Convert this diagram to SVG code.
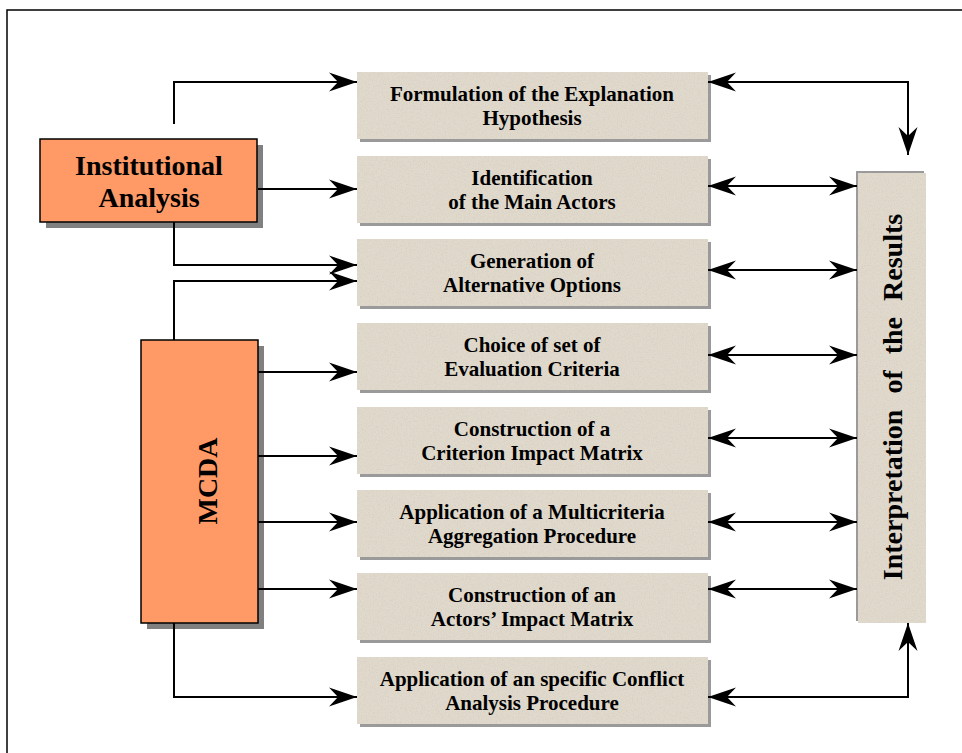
<svg xmlns="http://www.w3.org/2000/svg" width="962" height="753" viewBox="0 0 962 753">
<defs>
<style>
.frame{fill:none;stroke:#000;stroke-width:1.5}
.orange{fill:#FF9966;stroke:#000;stroke-width:1.5}
.oshadow{fill:#808080}
.tan{fill:#E0D9CC;filter:url(#grain)}
.tshadow{fill:#9a9a9a}
.t{font-family:"Liberation Serif","Times New Roman",serif;font-weight:bold;fill:#000;text-anchor:middle}
.box{font-size:21px}
.big{font-size:28px}
.conn path{fill:none;stroke:#000;stroke-width:2}
</style>
<marker id="ah" markerUnits="userSpaceOnUse" markerWidth="30" markerHeight="22" viewBox="-29 -11 30 22" refX="0" refY="0" orient="auto-start-reverse">
<path d="M0,0 L-28,-9.5 L-19,0 L-28,9.5 Z" fill="#000"/>
</marker>
<filter id="grain" x="0" y="0" width="100%" height="100%">
<feTurbulence type="fractalNoise" baseFrequency="0.75" numOctaves="2" seed="4" result="n"/>
<feColorMatrix in="n" type="matrix" values="0 0 0 0 0.66  0 0 0 0 0.61  0 0 0 0 0.54  2.2 0 0 0 -1.0" result="s"/>
<feComposite in="s" in2="SourceGraphic" operator="in" result="t"/>
<feMerge><feMergeNode in="SourceGraphic"/><feMergeNode in="t"/></feMerge>
</filter>
</defs>
<rect width="962" height="753" fill="#fff"/>
<path class="frame" d="M7,753 V10 H962"/>

<g id="institutional-analysis">
<rect class="oshadow" x="46" y="145" width="217" height="83"/>
<rect class="orange" x="40" y="139" width="217" height="83"/>
<text class="t big" x="149" y="175">Institutional</text>
<text class="t big" x="149" y="207">Analysis</text>
</g>

<g id="mcda">
<rect class="oshadow" x="147" y="346" width="117" height="283"/>
<rect class="orange" x="141" y="340" width="117" height="283"/>
<text class="t big" transform="rotate(-90 217 481)" x="217" y="481">MCDA</text>
</g>

<g id="step1">
<rect class="tshadow" x="360" y="75" width="351" height="67"/>
<rect class="tan" x="357" y="72" width="351" height="67"/>
<text class="t box" x="532" y="101">Formulation of the Explanation</text>
<text class="t box" x="532" y="125">Hypothesis</text>
</g>
<g id="step2">
<rect class="tshadow" x="360" y="159" width="351" height="67"/>
<rect class="tan" x="357" y="156" width="351" height="67"/>
<text class="t box" x="532" y="185">Identification</text>
<text class="t box" x="532" y="209">of the Main Actors</text>
</g>
<g id="step3">
<rect class="tshadow" x="360" y="242" width="351" height="67"/>
<rect class="tan" x="357" y="239" width="351" height="67"/>
<text class="t box" x="532" y="268">Generation of</text>
<text class="t box" x="532" y="292">Alternative Options</text>
</g>
<g id="step4">
<rect class="tshadow" x="360" y="326" width="351" height="67"/>
<rect class="tan" x="357" y="323" width="351" height="67"/>
<text class="t box" x="532" y="352">Choice of set of</text>
<text class="t box" x="532" y="376">Evaluation Criteria</text>
</g>
<g id="step5">
<rect class="tshadow" x="360" y="410" width="351" height="67"/>
<rect class="tan" x="357" y="407" width="351" height="67"/>
<text class="t box" x="532" y="436">Construction of a</text>
<text class="t box" x="532" y="460">Criterion Impact Matrix</text>
</g>
<g id="step6">
<rect class="tshadow" x="360" y="493" width="351" height="67"/>
<rect class="tan" x="357" y="490" width="351" height="67"/>
<text class="t box" x="532" y="519">Application of a Multicriteria</text>
<text class="t box" x="532" y="543">Aggregation Procedure</text>
</g>
<g id="step7">
<rect class="tshadow" x="360" y="576" width="351" height="67"/>
<rect class="tan" x="357" y="573" width="351" height="67"/>
<text class="t box" x="532" y="602">Construction of an</text>
<text class="t box" x="532" y="626">Actors’ Impact Matrix</text>
</g>
<g id="step8">
<rect class="tshadow" x="360" y="660" width="351" height="67"/>
<rect class="tan" x="357" y="657" width="351" height="67"/>
<text class="t box" x="532" y="686">Application of an specific Conflict</text>
<text class="t box" x="532" y="710">Analysis Procedure</text>
</g>

<g id="interpretation">
<rect class="tshadow" x="856" y="171" width="68" height="450"/>
<rect class="tan" x="858" y="173" width="68" height="450"/>
<text class="t big" transform="rotate(-90 902 397)" x="902" y="397" word-spacing="9">Interpretation of the Results</text>
</g>

<g class="conn" id="connectors">
<path d="M174,124 V82 H357" marker-end="url(#ah)"/>
<path d="M258,189 H357" marker-end="url(#ah)"/>
<path d="M174,222 V265 H357" marker-end="url(#ah)"/>
<path d="M174,340 V281 H357" marker-end="url(#ah)"/>
<path d="M258,372 H357" marker-end="url(#ah)"/>
<path d="M258,456 H357" marker-end="url(#ah)"/>
<path d="M258,522 H357" marker-end="url(#ah)"/>
<path d="M258,589 H357" marker-end="url(#ah)"/>
<path d="M174,623 V697 H357" marker-end="url(#ah)"/>
<path d="M708,82 H908 V155" marker-start="url(#ah)" marker-end="url(#ah)"/>
<path d="M708,186 H857" marker-start="url(#ah)" marker-end="url(#ah)"/>
<path d="M708,270 H857" marker-start="url(#ah)" marker-end="url(#ah)"/>
<path d="M708,355 H857" marker-start="url(#ah)" marker-end="url(#ah)"/>
<path d="M708,438 H857" marker-start="url(#ah)" marker-end="url(#ah)"/>
<path d="M708,522 H857" marker-start="url(#ah)" marker-end="url(#ah)"/>
<path d="M708,589 H857" marker-start="url(#ah)" marker-end="url(#ah)"/>
<path d="M708,697 H908 V623" marker-start="url(#ah)" marker-end="url(#ah)"/>
</g>
</svg>
